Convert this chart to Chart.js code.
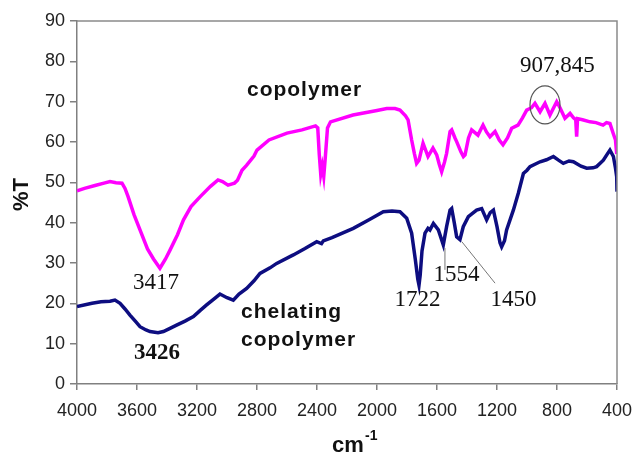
<!DOCTYPE html>
<html>
<head>
<meta charset="utf-8">
<script src="https://cdn.jsdelivr.net/npm/chart.js@4/dist/chart.umd.min.js"></script>
<style>
  html, body { margin: 0; padding: 0; background: #fff; }
  canvas { display: block; }
</style>
</head>
<body>
<canvas id="ftirChart" width="636" height="459"></canvas>
<script>
// wavenumbers (cm-1) and %T
const copolymerWn = [4000, 3950, 3880, 3820, 3780, 3740, 3700, 3680, 3660, 3620, 3580, 3530, 3490, 3447, 3410, 3380, 3330, 3290, 3240, 3180, 3110, 3060, 3030, 2993, 2950, 2930, 2900, 2870, 2820, 2800, 2720, 2600, 2500, 2410, 2395, 2385, 2375, 2365, 2355, 2345, 2330, 2310, 2160, 2000, 1935, 1880, 1847, 1810, 1793, 1769, 1750, 1736, 1720, 1693, 1660, 1627, 1602, 1585, 1569, 1550, 1536, 1513, 1502, 1480, 1469, 1440, 1424, 1413, 1390, 1369, 1327, 1293, 1270, 1247, 1213, 1185, 1160, 1130, 1102, 1060, 1030, 1002, 970, 947, 913, 880, 847, 802, 780, 747, 713, 690, 675, 669, 663, 630, 580, 540, 493, 470, 447, 425, 410, 402];
const copolymerT = [47.9, 48.5, 49.2, 49.8, 50.2, 49.9, 49.8, 48.5, 46.5, 42, 38.2, 33.5, 31, 28.7, 31, 33.2, 37, 40.7, 44, 46.4, 49, 50.6, 50.2, 49.3, 49.8, 50.5, 53, 54.2, 56.5, 58, 60.5, 62.2, 63, 64, 63.5, 57, 52, 54, 51.5, 56, 63.5, 65, 66.7, 67.8, 68.3, 68.3, 67.9, 66.5, 65.5, 60.5, 57, 54.7, 55.5, 59.7, 56.4, 58.5, 56.8, 54.5, 52.6, 55, 57.2, 62.6, 63, 61, 60.1, 57.5, 56.4, 56.8, 61, 63, 61.7, 64.2, 62.5, 61.3, 62.6, 60.5, 59.3, 61, 63.4, 64.2, 66, 67.9, 68.5, 69.6, 67.5, 69.6, 66.7, 70, 68.5, 65.9, 67.1, 66, 65.5, 61.3, 65.8, 65.5, 65, 64.8, 64.2, 64.8, 64.6, 62.1, 60.5, 57];

const chelatingWn = [4000, 3900, 3840, 3780, 3747, 3713, 3680, 3647, 3610, 3580, 3540, 3513, 3460, 3424, 3380, 3336, 3280, 3224, 3180, 3136, 3090, 3047, 3000, 2958, 2920, 2869, 2820, 2780, 2713, 2669, 2558, 2480, 2402, 2370, 2358, 2300, 2158, 2050, 1958, 1900, 1847, 1802, 1769, 1745, 1728, 1720, 1712, 1700, 1680, 1660, 1647, 1624, 1591, 1558, 1536, 1513, 1502, 1485, 1469, 1447, 1425, 1391, 1336, 1302, 1269, 1245, 1224, 1200, 1180, 1169, 1150, 1136, 1091, 1058, 1024, 1000, 980, 913, 870, 824, 790, 758, 720, 691, 640, 602, 560, 536, 491, 465, 447, 424, 410, 402, 400];
const chelatingT = [19.2, 20, 20.4, 20.5, 20.8, 20, 18.6, 17.1, 15.5, 14.2, 13.4, 13, 12.7, 13, 13.8, 14.6, 15.6, 16.7, 18.2, 19.6, 21, 22.3, 21.4, 20.8, 22.3, 23.7, 25.6, 27.4, 28.8, 29.9, 32, 33.6, 35.3, 34.8, 35.5, 36.3, 38.6, 40.8, 42.7, 42.9, 42.7, 41.1, 37.4, 31, 26, 24.5, 27, 33, 37.4, 38.6, 38.2, 39.8, 38.2, 34.5, 39, 43.1, 43.5, 40, 36.5, 35.8, 39, 41.5, 43.1, 43.5, 40.7, 42.5, 43.1, 39, 35, 34, 35.5, 38.2, 43.1, 47.3, 52.2, 53, 53.9, 55.1, 55.6, 56.4, 55.5, 54.7, 55.3, 55.1, 54, 53.5, 53.6, 53.9, 55.5, 57, 58, 56.4, 53.5, 51.4, 47.7];

const xTicks = [4000, 3600, 3200, 2800, 2400, 2000, 1600, 1200, 800, 400];
const yTicks = [0, 10, 20, 30, 40, 50, 60, 70, 80, 90];

// peak labels: [text, wavenumber, %T, bold]
const peakLabels = [
    ['3417', 3473, 25.0, false],
    ['3426', 3467, 7.7, true],
    ['1722', 1730, 20.8, false],
    ['1554', 1470, 27.0, false],
    ['1450', 1090, 20.8, false],
    ['907,845', 797, 78.8, false]
];
// leader lines: [wn1, t1, wn2, t2]
const leaders = [
    [1547, 33.7, 1547, 28.3],
    [1435, 35.3, 1213, 25.0]
];

const toPoints = (xs, ys) => xs.map((x, i) => ({ x: x, y: ys[i] }));

const annotatePlugin = {
    id: 'annotate',
    afterDatasetsDraw(chart) {
        const { ctx, chartArea, scales } = chart;
        const px = v => scales.x.getPixelForValue(v);
        const py = v => scales.y.getPixelForValue(v);
        ctx.save();

        // frame top/right
        ctx.strokeStyle = '#8a8a8a';
        ctx.lineWidth = 1.5;
        ctx.beginPath();
        ctx.moveTo(chartArea.left, chartArea.top);
        ctx.lineTo(chartArea.right, chartArea.top);
        ctx.lineTo(chartArea.right, chartArea.bottom);
        ctx.stroke();

        // leader lines
        ctx.strokeStyle = '#777';
        ctx.lineWidth = 1;
        leaders.forEach(l => {
            ctx.beginPath();
            ctx.moveTo(px(l[0]), py(l[1]));
            ctx.lineTo(px(l[2]), py(l[3]));
            ctx.stroke();
        });

        // circle around 907/845 doublet
        ctx.strokeStyle = '#555';
        ctx.lineWidth = 1.2;
        ctx.beginPath();
        ctx.ellipse(px(880), py(69.2), 15, 19, 0, 0, Math.PI * 2);
        ctx.stroke();

        // series names
        ctx.fillStyle = '#111';
        ctx.textAlign = 'left';
        ctx.textBaseline = 'middle';
        ctx.font = 'bold 21px "Liberation Sans", Arial, sans-serif';
        ctx.letterSpacing = '1px';
        ctx.fillText('copolymer', px(2867), py(72.9));
        ctx.fillText('chelating', px(2907), py(17.9));
        ctx.fillText('copolymer', px(2907), py(10.9));
        ctx.letterSpacing = '0px';

        // peak numbers
        ctx.textAlign = 'center';
        peakLabels.forEach(p => {
            ctx.font = (p[3] ? 'bold ' : '') + '23px "Liberation Serif", "Times New Roman", serif';
            ctx.fillText(p[0], px(p[1]), py(p[2]));
        });

        // axis titles
        ctx.font = 'bold 22px "Liberation Sans", Arial, sans-serif';
        ctx.save();
        ctx.translate(22, (chartArea.top + chartArea.bottom) / 2 - 8);
        ctx.rotate(-Math.PI / 2);
        ctx.textAlign = 'center';
        ctx.fillText('%T', 0, 0);
        ctx.restore();

        ctx.textAlign = 'left';
        ctx.fillText('cm', 332, 446);
        ctx.font = 'bold 14px "Liberation Sans", Arial, sans-serif';
        ctx.fillText('-1', 365, 436);
        ctx.restore();
    }
};

const ctx = document.getElementById('ftirChart').getContext('2d');

new Chart(ctx, {
    type: 'scatter',
    data: {
        datasets: [
            {
                label: 'copolymer',
                data: toPoints(copolymerWn, copolymerT),
                showLine: true,
                borderColor: '#ff00ff',
                backgroundColor: '#ff00ff',
                borderWidth: 3.5,
                pointRadius: 0,
                tension: 0
            },
            {
                label: 'chelating copolymer',
                data: toPoints(chelatingWn, chelatingT),
                showLine: true,
                borderColor: '#0d0d80',
                backgroundColor: '#0d0d80',
                borderWidth: 3.5,
                pointRadius: 0,
                tension: 0
            }
        ]
    },
    options: {
        responsive: false,
        animation: false,
        layout: { padding: { left: 0, right: 19, top: 21, bottom: 0 } },
        plugins: {
            legend: { display: false },
            tooltip: { enabled: false }
        },
        scales: {
            x: {
                type: 'linear',
                reverse: true,
                min: 400,
                max: 4000,
                afterBuildTicks: s => { s.ticks = xTicks.map(v => ({ value: v })); },
                ticks: {
                    color: '#222',
                    padding: 10,
                    maxRotation: 0,
                    callback: v => String(v),
                    font: { family: '"Liberation Sans", Arial, sans-serif', size: 18 }
                },
                grid: { drawOnChartArea: false, tickLength: 6, color: '#808080', lineWidth: 1.5 },
                border: { color: '#808080', width: 1.5 },
                afterFit: s => { s.height = 75; s.paddingLeft = 0; s.paddingRight = 0; }
            },
            y: {
                min: 0,
                max: 90,
                afterBuildTicks: s => { s.ticks = yTicks.map(v => ({ value: v })); },
                ticks: {
                    color: '#222',
                    padding: 5,
                    callback: v => String(v),
                    font: { family: '"Liberation Sans", Arial, sans-serif', size: 18 }
                },
                grid: { drawOnChartArea: false, tickLength: 7, color: '#808080', lineWidth: 1.5 },
                border: { color: '#808080', width: 1.5 },
                afterFit: s => { s.width = 77; s.paddingTop = 0; s.paddingBottom = 0; }
            }
        }
    },
    plugins: [annotatePlugin]
});
</script>
</body>
</html>
